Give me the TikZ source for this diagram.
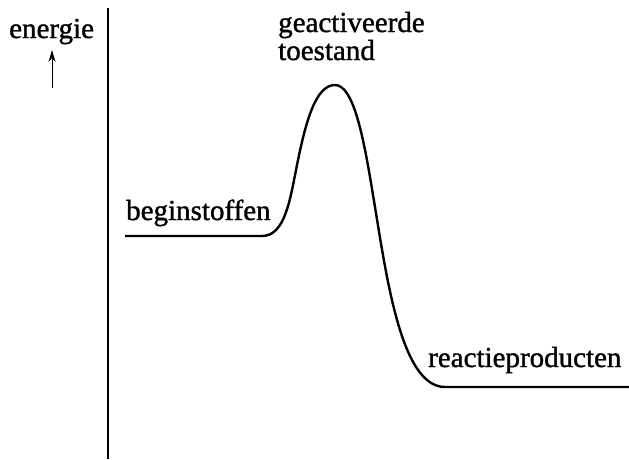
\documentclass[tikz,border=0pt]{standalone}
\usepackage{fontspec}
\setmainfont{Liberation Serif}[FakeBold=1.2]
\usetikzlibrary{arrows.meta}
\begin{document}
\begin{tikzpicture}[x=1pt,y=-1pt,
  lbl/.style={anchor=base west,inner sep=0pt,font=\fontsize{29}{31}\selectfont},
  curve/.style={line width=2.4pt,line join=round}]
\useasboundingbox (0,0) rectangle (629,459);
\coordinate (axtop) at (108,8);
\coordinate (axbot) at (108,459);
\draw[line width=1.4pt] (axtop) -- (axbot);
\node[lbl] (energie) at (9,38) {energie};
\coordinate (arrbot) at (52,88);
\coordinate (arrtop) at (52,50);
\draw[line width=1pt,-{Stealth[length=12pt,width=7pt]}] (arrbot) -- (arrtop);
\node[lbl] (geact) at (278,32) {geactiveerde};
\node[lbl] (toest) at (278,60) {toestand};
\node[lbl] (begin) at (126,220) {beginstoffen};
\node[lbl] (reactie) at (428,367) {reactieproducten};
\coordinate (s0) at (125,236);
\coordinate (s1) at (262,236);
\coordinate (s2) at (297,165);
\coordinate (peak) at (335,85);
\coordinate (s3) at (373,195);
\coordinate (s4) at (445,387);
\coordinate (s5) at (629,387);
\draw[curve] (s0) -- (s1)
  .. controls (285,236) and (290,200) .. (s2)
  .. controls (306,120) and (316,85) .. (peak)
  .. controls (354,85) and (364,140) .. (s3)
  .. controls (386,272) and (400,387) .. (s4)
  -- (s5);
\end{tikzpicture}
\end{document}
